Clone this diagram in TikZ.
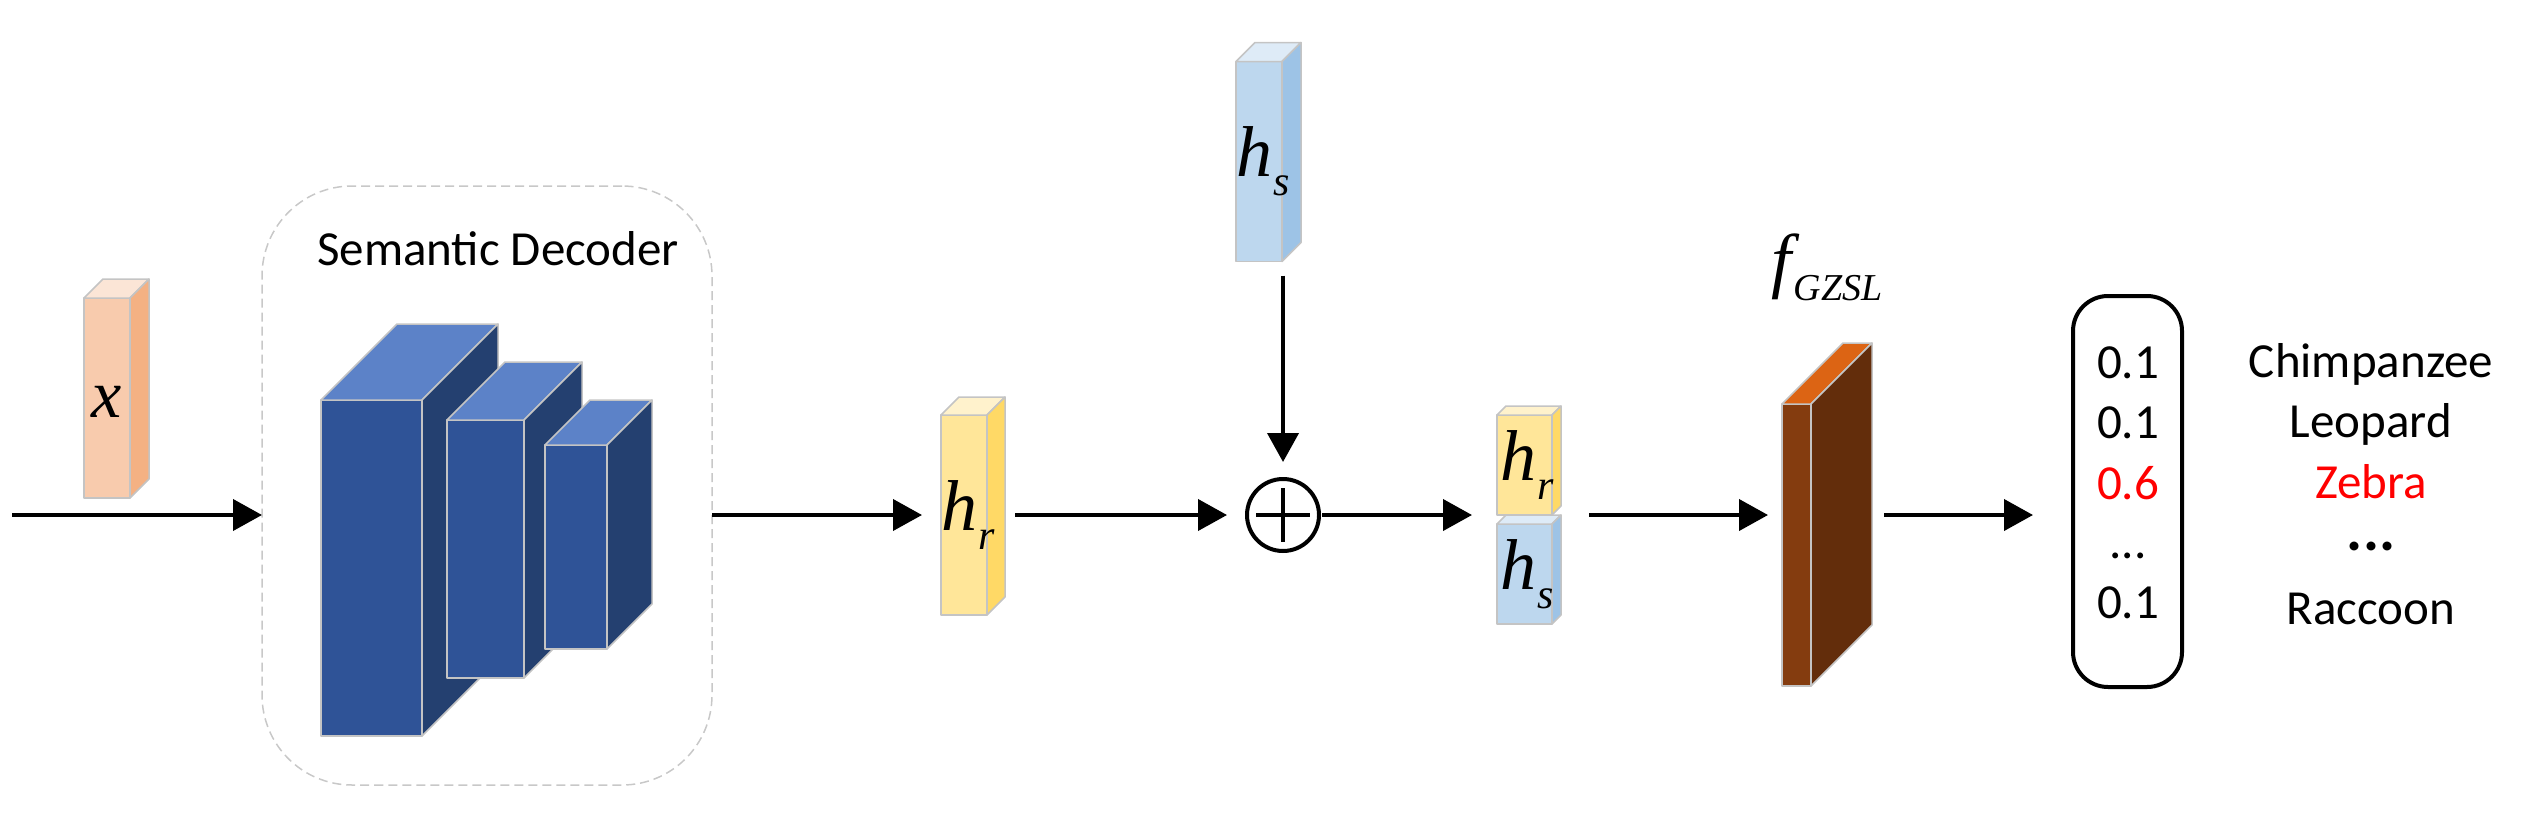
\documentclass[tikz,border=0pt]{standalone}
\usepackage{fontspec}
\setmainfont{Carlito}
\newfontfamily\serifface{Liberation Serif}
\usetikzlibrary{arrows.meta,calc}

\definecolor{edgegray}{HTML}{C4C4C4}
\definecolor{dashgray}{HTML}{C8C8C8}
\definecolor{xfront}{HTML}{F8CBAD}
\definecolor{xtop}{HTML}{FBE5D6}
\definecolor{xside}{HTML}{F4B183}
\definecolor{yfront}{HTML}{FFE699}
\definecolor{ytop}{HTML}{FFF2CC}
\definecolor{yside}{HTML}{FFD966}
\definecolor{bfront}{HTML}{BDD7EE}
\definecolor{btop}{HTML}{DEEBF7}
\definecolor{bside}{HTML}{9DC3E6}
\definecolor{dfront}{HTML}{2F5397}
\definecolor{dtop}{HTML}{5C82C8}
\definecolor{dside}{HTML}{244070}
\definecolor{sfront}{HTML}{843C0F}
\definecolor{stop}{HTML}{DC6414}
\definecolor{sside}{HTML}{632D0B}
\definecolor{hired}{HTML}{FF0000}

\tikzset{
  cubeface/.style={draw=edgegray, line width=1.5pt, line join=round},
  frontface/.style={cubeface, rectangle, inner sep=0pt, outer sep=0pt},
  arr/.style={line width=4pt, -{Triangle[length=29pt,width=31pt]}},
  lbl/.style={font=\fontsize{49}{49}\selectfont, anchor=base, inner sep=0pt},
  mathlbl/.style={inner sep=0pt, anchor=center},
}

% name, cx, cy, w, h, depth, front, top, side
\newcommand\mkcube[9]{%
  \node[frontface, fill=#7, minimum width=#4pt, minimum height=#5pt] (#1) at (#2,#3) {};
  \filldraw[cubeface, fill=#8] (#1.north west) -- ++(#6,-#6) -- ++(#4,0) -- (#1.north east) -- cycle;
  \filldraw[cubeface, fill=#9] (#1.north east) -- ++(#6,-#6) -- ++(0,#5) -- (#1.south east) -- cycle;
}
\newcommand\vsub[2]{{\serifface\itshape\fontsize{72}{72}\selectfont #1\kern1pt\raisebox{-19pt}{\fontsize{42}{42}\selectfont #2}}}

\begin{document}
\begin{tikzpicture}[x=1pt,y=-1pt]
\useasboundingbox (0,0) rectangle (2523,819);

% input vector x
\mkcube{xc}{107}{398}{46}{200}{19}{xfront}{xtop}{xside}
\node[mathlbl] (xl) at ([yshift=-4pt]xc.center) {\serifface\itshape\fontsize{68}{68}\selectfont x};

% semantic decoder
\node[draw=dashgray, line width=1.5pt, dash pattern=on 9pt off 5pt, rounded corners=90pt,
      minimum width=450pt, minimum height=599pt, inner sep=0pt, outer sep=0pt] (dec) at (487,485.5) {};
\node[lbl] (sd) at (498,265) {Semantic Decoder};
\mkcube{b1}{371.5}{568}{101}{336}{76}{dfront}{dtop}{dside}
\mkcube{b2}{485.5}{549}{77}{258}{58}{dfront}{dtop}{dside}
\mkcube{b3}{576}{547}{62}{204}{45}{dfront}{dtop}{dside}

% h_r
\mkcube{hr}{964}{515}{46}{200}{18}{yfront}{ytop}{yside}
\node[mathlbl] (hrl) at ([xshift=4pt]hr.center) {\vsub{h}{r}};

% h_s
\mkcube{hs}{1259}{161.5}{46}{200}{19}{bfront}{btop}{bside}
\node[mathlbl] (hsl) at ([xshift=4pt]hs.center) {\vsub{h}{s}};

% oplus
\node[circle, draw, line width=4pt, minimum size=72pt, inner sep=0pt, outer sep=0pt] (op) at (1283,515) {};
\draw[line width=4.5pt] ($(op.center)+(-27,0)$) -- ($(op.center)+(27,0)$);
\draw[line width=4.5pt] ($(op.center)+(0,-27)$) -- ($(op.center)+(0,27)$);

% concatenation
\mkcube{cr}{1524.5}{465}{55}{100}{9}{yfront}{ytop}{yside}
\mkcube{cs}{1524.5}{574}{55}{100}{9}{bfront}{btop}{bside}
\node[mathlbl] (crl) at ([xshift=3pt]cr.center) {\vsub{h}{r}};
\node[mathlbl] (csl) at ([xshift=3pt]cs.center) {\vsub{h}{s}};

% f_GZSL slab
\mkcube{fz}{1796.5}{545}{29}{282}{61}{sfront}{stop}{sside}
\node[anchor=base, inner sep=0pt] (fl) at (1827,284)
  {\serifface\itshape\fontsize{72}{72}\selectfont f\kern2pt\raisebox{-16pt}{\fontsize{38}{38}\selectfont GZSL}};

% probability box
\node[draw, line width=4pt, rounded corners=35pt, minimum width=109pt, minimum height=391pt,
      inner sep=0pt, outer sep=0pt] (prob) at (2127.5,491.5) {};
\node[lbl] (p1) at (2128,378) {0.1};
\node[lbl] (p2) at (2128,438) {0.1};
\node[lbl, text=hired] (p3) at (2128,499) {0.6};
\node[lbl] (p4) at (2128,558) {...};
\node[lbl] (p5) at (2128,618) {0.1};

% class names
\node[lbl] (c1) at (2371,377) {Chimpanzee};
\node[lbl] (c2) at (2371,437) {Leopard};
\node[lbl, text=hired] (c3) at (2371,498) {Zebra};
\node[lbl, font=\fontsize{60}{60}\selectfont\bfseries] (c4) at (2371,550) {...};
\node[lbl] (c5) at (2371,624) {Raccoon};

% connectors
\coordinate (in) at (12,515);
\draw[arr] (in) -- (in -| dec.west);
\draw[arr, shorten >=19pt] (dec.east |- hr.center) -- (hr.west);
\draw[arr, shorten <=28pt, shorten >=20pt] (hr.east) -- (op.west);
\draw[arr, shorten <=14pt, shorten >=17pt] (op.north |- hs.south) -- (op.north);
\draw[arr, shorten <=3pt, shorten >=25pt] (op.east) -- (op.east -| cr.west);
\draw[arr, shorten <=37pt, shorten >=14pt] (op.east -| cr.east) -- (op.east -| fz.west);
\draw[arr, shorten <=73pt, shorten >=40pt] (op.east -| fz.east) -- (op.east -| prob.west);
\end{tikzpicture}
\end{document}
